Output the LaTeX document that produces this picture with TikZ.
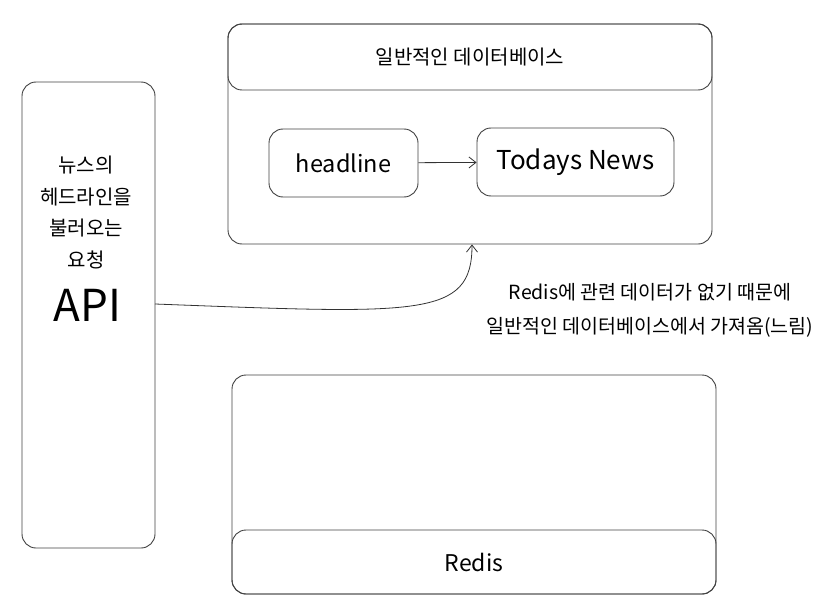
\documentclass[tikz,border=0pt]{standalone}
\usepackage{fontspec}
\setmainfont{Noto Sans CJK KR}
\usepackage{tikz}
\usetikzlibrary{arrows.meta}

\begin{document}
\begin{tikzpicture}[x=1pt, y=-1pt,
		box/.style={draw=black!75, line width=0.9pt, rounded corners=14pt, inner sep=0pt},
		arr/.style={draw=black!80, line width=0.8pt, -{Straight Barb[length=7pt, width=11pt]}}]
		\useasboundingbox (0,0) rectangle (840,615);
		
		% API box
		\node[box, minimum width=133pt, minimum height=466pt] (api) at (88.5,315) {};
		\node[align=center, font=\fontsize{20}{31.5}\selectfont] (apitxt) at (86,212.5)
		{뉴스의\\헤드라인을\\불러오는\\요청};
		\node[font=\fontsize{44}{48}\selectfont] (apiname) at (87.5,305) {API};
		
		% Database
		\node[box, minimum width=484pt, minimum height=220pt] (db) at (470,134) {};
		\node[box, minimum width=484pt, minimum height=66pt, font=\fontsize{20}{24}\selectfont] (dbhead) at (470,57) {일반적인 데이터베이스};
		\node[box, minimum width=149pt, minimum height=68pt, font=\fontsize{23.5}{26}\selectfont] (headline) at (343.5,163) {headline};
		\node[box, minimum width=197pt, minimum height=68pt, font=\fontsize{26}{28}\selectfont] (news) at (575.5,162) {Todays News};
		\draw[arr] (headline) -- (news);
		
		% Redis
		\node[box, minimum width=484pt, minimum height=219pt] (cache) at (474,484.5) {};
		\node[box, minimum width=484pt, minimum height=64pt, font=\fontsize{23}{26}\selectfont] (cachehead) at (474,562) {Redis};
		
		% Request goes to the database
		\coordinate (apiout) at (155,304);
		\draw[arr] (apiout) .. controls (420,314) and (472,318) .. ([xshift=2pt]db.south);
		\node[align=center, font=\fontsize{19.5}{34}\selectfont] (note) at (650,310)
		{Redis에 관련 데이터가 없기 때문에\\일반적인 데이터베이스에서 가져옴(느림)};
		
	\end{tikzpicture}
\end{document}
